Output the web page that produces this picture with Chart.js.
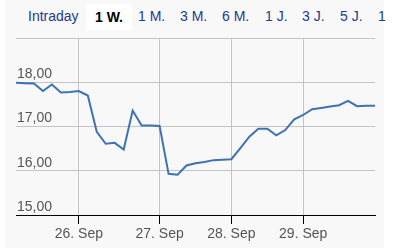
<!DOCTYPE html>
<html>
<head>
<meta charset="utf-8">
<script src="https://cdn.jsdelivr.net/npm/chart.js@4/dist/chart.umd.min.js"></script>
<style>
body{margin:0;width:396px;height:248px;background:#fff;overflow:hidden;font-family:"Liberation Sans",Arial,sans-serif}
.bg{position:absolute;left:5px;top:0;width:379px;height:248px;background:#f8f8f8}
.tabs{position:absolute;left:0;top:0;height:34px}
.tabs span{position:absolute;top:8px;font-size:14px;color:#253a8e;white-space:nowrap}
.tabs .on{color:#000;font-weight:bold;background:#fff;top:4px;height:26px;line-height:26px;padding:0 9px}
#wrap{position:absolute;left:0;top:0;width:396px;height:248px}
</style>
</head>
<body>
<div class="bg"></div>
<div class="tabs">
<span style="left:28px">Intraday</span>
<span class="on" style="left:86px">1 W.</span>
<span style="left:138px">1 M.</span>
<span style="left:180px">3 M.</span>
<span style="left:222px">6 M.</span>
<span style="left:265px">1 J.</span>
<span style="left:302px">3 J.</span>
<span style="left:340px">5 J.</span>
<span style="left:378px">1</span>
</div>
<div id="wrap"><canvas id="chart" width="396" height="248"></canvas></div>
<script>
// Kurs der Woche, ein Punkt pro Intervall
const kurse = [17.99,17.98,17.97,17.80,17.95,17.77,17.78,17.80,17.70,16.88,
	16.61,16.63,16.48,17.36,17.02,17.02,17.01,15.93,15.91,16.12,
	16.17,16.20,16.24,16.25,16.26,16.51,16.77,16.95,16.95,16.80,
	16.92,17.16,17.26,17.39,17.42,17.45,17.48,17.58,17.46,17.47,17.47];
const tagIndex = [7,16,24,32];
const tagLabels = ['26. Sep','27. Sep','28. Sep','29. Sep'];
const yTicks = [15,16,17,18,19];

const punkte = kurse.map((k,i)=>({x:i,y:k}));
const fmt = function(v){
	return v.toFixed(2).replace('.',',');
}

var ctx=document.getElementById('chart').getContext('2d');
var myChart = new Chart(ctx, {
	type: 'line',
	data: {
		datasets: [{
			data: punkte,
			borderColor: '#3d72b5',
			borderWidth: 2,
			pointRadius: 0,
			tension: 0,
			fill: false
		}]
	},
	options:{
		responsive: false,
		animation: false,
		layout: {padding: {left: 16, right: 21, top: 38, bottom: 0}},
		plugins: {legend: {display: false}, tooltip: {enabled: false}},
		scales: {
			x: {
				type: 'linear',
				min: 0,
				max: kurse.length-1,
				afterBuildTicks: (s)=>{ s.ticks = tagIndex.map(v=>({value:v})); },
				afterFit: (s)=>{ s.height = 33; },
				grid: {color: '#c4c4c4', tickColor: '#000', tickLength: 9, lineWidth: 1},
				border: {color: '#000', width: 1},
				ticks: {
					autoSkip: false,
					maxRotation: 0,
					padding: 2,
					color: '#555',
					font: {family: '"Liberation Sans", Arial', size: 14},
					callback: (v)=> tagLabels[tagIndex.indexOf(v)] || ''
				}
			},
			y: {
				min: 15,
				max: 19,
				afterBuildTicks: (s)=>{ s.ticks = yTicks.map(v=>({value:v})); },
				afterFit: (s)=>{ s.width = 0; },
				grid: {color: '#c4c4c4', drawTicks: false, lineWidth: 1},
				border: {display: false},
				ticks: {
					mirror: true,
					padding: 1,
					labelOffset: -8,
					color: '#555',
					font: {family: '"Liberation Sans", Arial', size: 14},
					callback: (v)=> v==19 ? '' : fmt(v)
				}
			}
		}
	}
});
</script>
</body>
</html>
